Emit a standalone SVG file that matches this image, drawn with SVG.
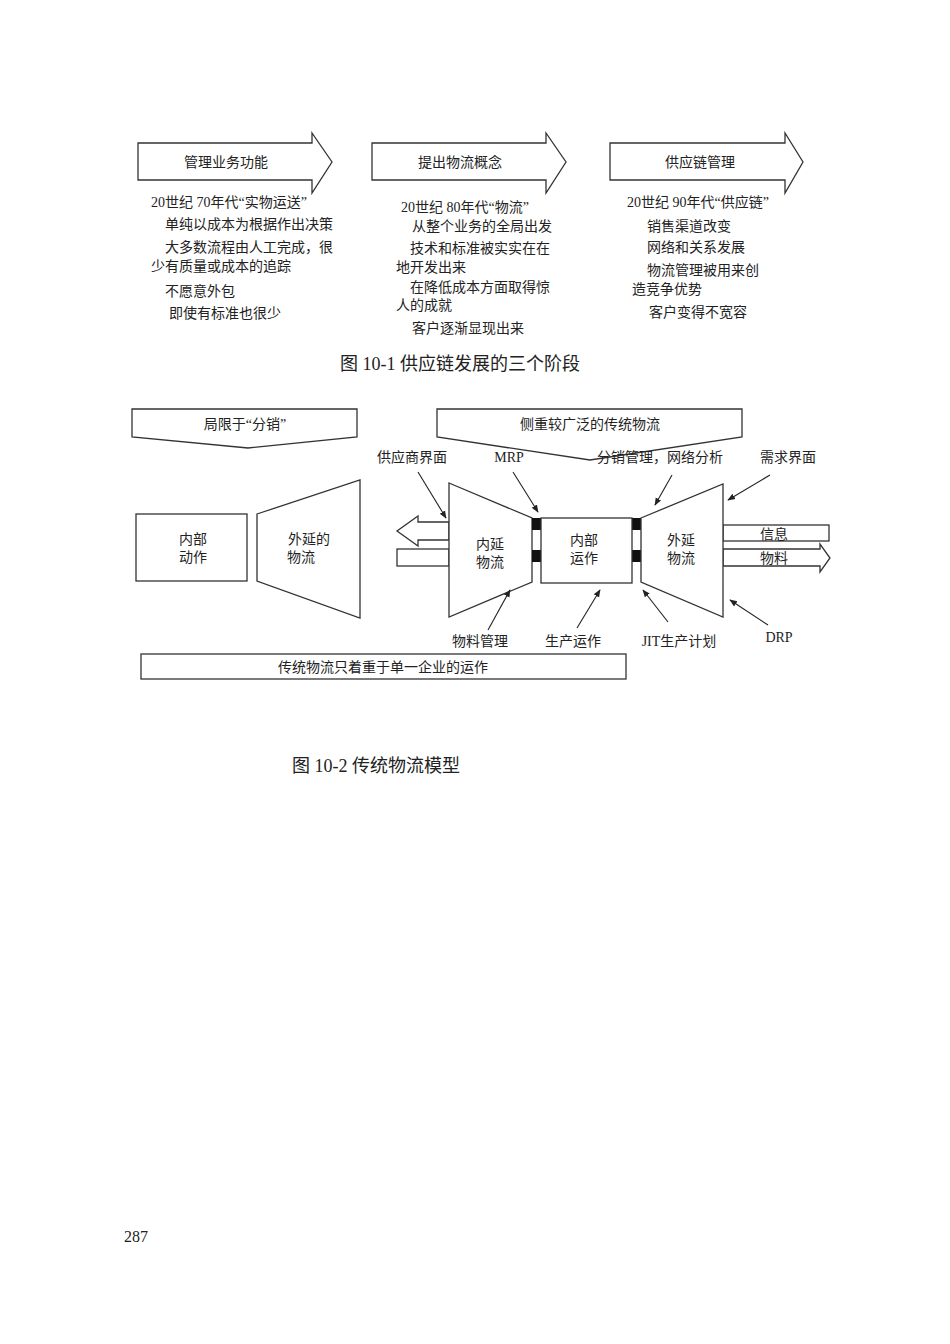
<svg xmlns="http://www.w3.org/2000/svg" width="950" height="1344" viewBox="0 0 950 1344">
<style>
.s{fill:#fff;stroke:#333;stroke-width:1.3}
text{font-family:"Liberation Serif","Noto Sans CJK SC",serif;font-size:14px;fill:#222}
.c{text-anchor:middle}
.cap{font-size:18px}
.l{stroke:#222;stroke-width:1.1;fill:none;marker-end:url(#ah)}
</style>
<defs><marker id="ah" viewBox="0 0 10 10" refX="9" refY="5" markerWidth="7" markerHeight="7" orient="auto"><path d="M0,1L10,5L0,9z" fill="#222"/></marker></defs>
<rect width="950" height="1344" fill="#fff"/>
<g id="stage1"><path class="s" d="M138,143H312V133L332,162L312,193V180H138Z"/><text class="c" x="226" y="167">管理业务功能</text>
<text x="151" y="207">20世纪 70年代“实物运送”</text><text x="165" y="229">单纯以成本为根据作出决策</text><text x="165" y="252">大多数流程由人工完成，很</text><text x="151" y="271">少有质量或成本的追踪</text><text x="165" y="296">不愿意外包</text><text x="169" y="318">即使有标准也很少</text></g>
<g id="stage2"><path class="s" d="M372,143H546V133L566,162L546,193V180H372Z"/><text class="c" x="460" y="167">提出物流概念</text>
<text x="401" y="212">20世纪 80年代“物流”</text><text x="412" y="231">从整个业务的全局出发</text><text x="410" y="253">技术和标准被实实在在</text><text x="396" y="272">地开发出来</text><text x="410" y="292">在降低成本方面取得惊</text><text x="396" y="310">人的成就</text><text x="412" y="333">客户逐渐显现出来</text></g>
<g id="stage3"><path class="s" d="M610,143H785V133L803,162L785,193V180H610Z"/><text class="c" x="700" y="167">供应链管理</text>
<text x="627" y="207">20世纪 90年代“供应链”</text><text x="647" y="231">销售渠道改变</text><text x="647" y="252">网络和关系发展</text><text x="647" y="275">物流管理被用来创</text><text x="632" y="294">造竞争优势</text><text x="649" y="317">客户变得不宽容</text></g>
<text class="cap" x="340" y="370">图 10-1  供应链发展的三个阶段</text>
<g id="banner1"><path class="s" d="M132,409H357V437L248,448L132,437Z"/><text class="c" x="245" y="429">局限于“分销”</text></g>
<g id="banner2"><path class="s" d="M437,409H742V437L590,460L437,437Z"/><text class="c" x="590" y="429">侧重较广泛的传统物流</text></g>
<g id="internal1"><rect class="s" x="136" y="514" width="111" height="67"/><text class="c" x="193" y="544">内部</text><text class="c" x="193" y="562">动作</text></g>
<g id="external1"><path class="s" d="M257,514L360,480V618L257,581Z"/><text class="c" x="309" y="544">外延的</text><text class="c" x="301" y="562">物流</text></g>
<g id="flows"><path class="s" d="M449,522H418V516L397,531L418,546V540H449Z"/><rect class="s" x="397" y="549" width="52" height="17"/>
<rect class="s" x="723" y="525" width="106" height="16"/><text x="760" y="539">信息</text>
<path class="s" d="M723,549H820V544L830,558L820,572V566H723Z"/><text x="760" y="563">物料</text></g>
<g id="inbound"><path class="s" d="M449,483L532,518V582L449,617Z"/><text class="c" x="490" y="549">内延</text><text class="c" x="490" y="567">物流</text></g>
<g id="connectors-black"><rect x="532" y="518" width="9" height="12" fill="#111"/><rect x="532" y="550" width="9" height="12" fill="#111"/><rect x="632" y="518" width="9" height="12" fill="#111"/><rect x="632" y="550" width="9" height="12" fill="#111"/></g>
<g id="internal2"><rect class="s" x="541" y="518" width="91" height="65"/><text class="c" x="584" y="545">内部</text><text class="c" x="584" y="563">运作</text></g>
<g id="outbound"><path class="s" d="M641,518L723,484V617L641,582Z"/><text class="c" x="681" y="545">外延</text><text class="c" x="681" y="563">物流</text></g>
<g id="labels"><text class="c" x="412" y="462">供应商界面</text><text class="c" x="509" y="462">MRP</text><text class="c" x="660" y="462">分销管理，网络分析</text><text class="c" x="788" y="462">需求界面</text>
<text class="c" x="480" y="646">物料管理</text><text class="c" x="573" y="646">生产运作</text><text class="c" x="679" y="646">JIT生产计划</text><text class="c" x="779" y="642">DRP</text></g>
<g id="connectors"><path class="l" d="M418,472L446,518"/><path class="l" d="M513,472L538,512"/><path class="l" d="M672,475L655,505"/><path class="l" d="M770,475L728,500"/>
<path class="l" d="M488,630L510,590"/><path class="l" d="M577,628L600,590"/><path class="l" d="M668,622L643,590"/><path class="l" d="M768,625L730,600"/></g>
<g id="footer"><rect class="s" x="141" y="654" width="485" height="25"/><text class="c" x="383" y="672">传统物流只着重于单一企业的运作</text></g>
<text class="cap" x="292" y="772">图 10-2  传统物流模型</text>
<text x="124" y="1242" style="font-size:16px">287</text>
</svg>
